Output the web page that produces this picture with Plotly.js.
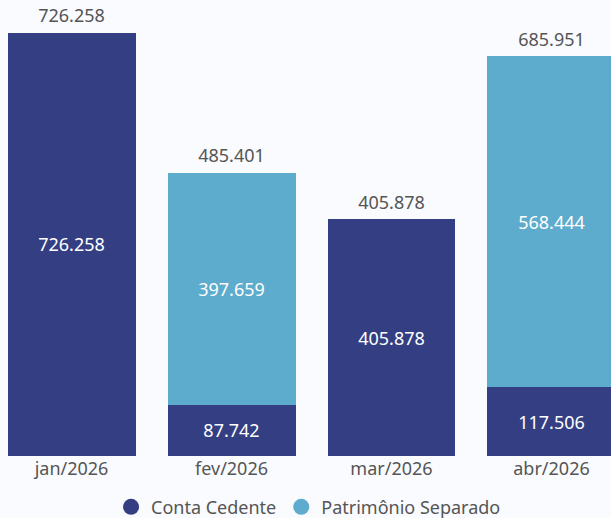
<!DOCTYPE html>
<html>
<head>
<meta charset="utf-8">
<script src="https://cdn.plot.ly/plotly-3.0.1.min.js"></script>
<style>
  html, body { margin: 0; padding: 0; background: #f9fbfe; }
  #chart { width: 611px; height: 518px; }
</style>
</head>
<body>
<div id="chart"></div>
<script>
const categories = ["jan/2026", "fev/2026", "mar/2026", "abr/2026"];
const contaCedente = [726258, 87742, 405878, 117506];
const patrimonioSeparado = [null, 397659, null, 568444];
const totals = [726258, 485401, 405878, 685951];

const darkBlue = "#343e82";
const lightBlue = "#5dabcd";
const textGrey = "#555555";
const fontFamily = "'Noto Sans', 'Open Sans', sans-serif";

const traces = [
  {
    type: "bar", x: categories, y: contaCedente, name: "Conta Cedente",
    marker: { color: darkBlue }, showlegend: false,
    texttemplate: "%{y:,.0f}", textposition: "inside", insidetextanchor: "middle",
    textfont: { color: "#ffffff", size: 18, family: fontFamily },
    hoverinfo: "skip"
  },
  {
    type: "bar", x: categories, y: patrimonioSeparado, name: "Patrimônio Separado",
    marker: { color: lightBlue }, showlegend: false,
    texttemplate: "%{y:,.0f}", textposition: "inside", insidetextanchor: "middle",
    textfont: { color: "#ffffff", size: 18, family: fontFamily },
    hoverinfo: "skip"
  },
  {
    type: "scatter", mode: "markers+text", x: categories, y: totals,
    marker: { size: 8, color: "rgba(0,0,0,0)" },
    texttemplate: "%{y:,.0f}", textposition: "top center",
    textfont: { color: textGrey, size: 18, family: fontFamily },
    showlegend: false, hoverinfo: "skip", cliponaxis: false
  },
  {
    type: "scatter", mode: "markers", x: [null], y: [null], name: "Conta Cedente",
    marker: { color: darkBlue, size: 18, symbol: "circle" }
  },
  {
    type: "scatter", mode: "markers", x: [null], y: [null], name: "Patrimônio Separado",
    marker: { color: lightBlue, size: 18, symbol: "circle" }
  }
];

const layout = {
  width: 611, height: 518,
  margin: { l: 0, r: 0, t: 0, b: 62, pad: 0 },
  paper_bgcolor: "#f9fbfe", plot_bgcolor: "#f9fbfe",
  separators: ",.",
  barmode: "stack", bargap: 0.2,
  font: { family: fontFamily, color: textGrey, size: 18 },
  xaxis: {
    type: "category", range: [-0.447, 3.372], showgrid: false, zeroline: false,
    showline: false, ticks: "", tickfont: { size: 18, color: textGrey }, fixedrange: true,
    automargin: false
  },
  yaxis: {
    range: [0, 782000], visible: false, showgrid: false, zeroline: false, fixedrange: true
  },
  legend: {
    orientation: "h", traceorder: "normal",
    x: 0.505, xanchor: "center", xref: "container",
    y: 0.021, yanchor: "middle", yref: "container",
    font: { size: 18, color: textGrey }, bgcolor: "rgba(0,0,0,0)",
    itemwidth: 30, tracegroupgap: 0
  },
  showlegend: true
};

Plotly.newPlot("chart", traces, layout, { displayModeBar: false, staticPlot: true });
</script>
</body>
</html>
